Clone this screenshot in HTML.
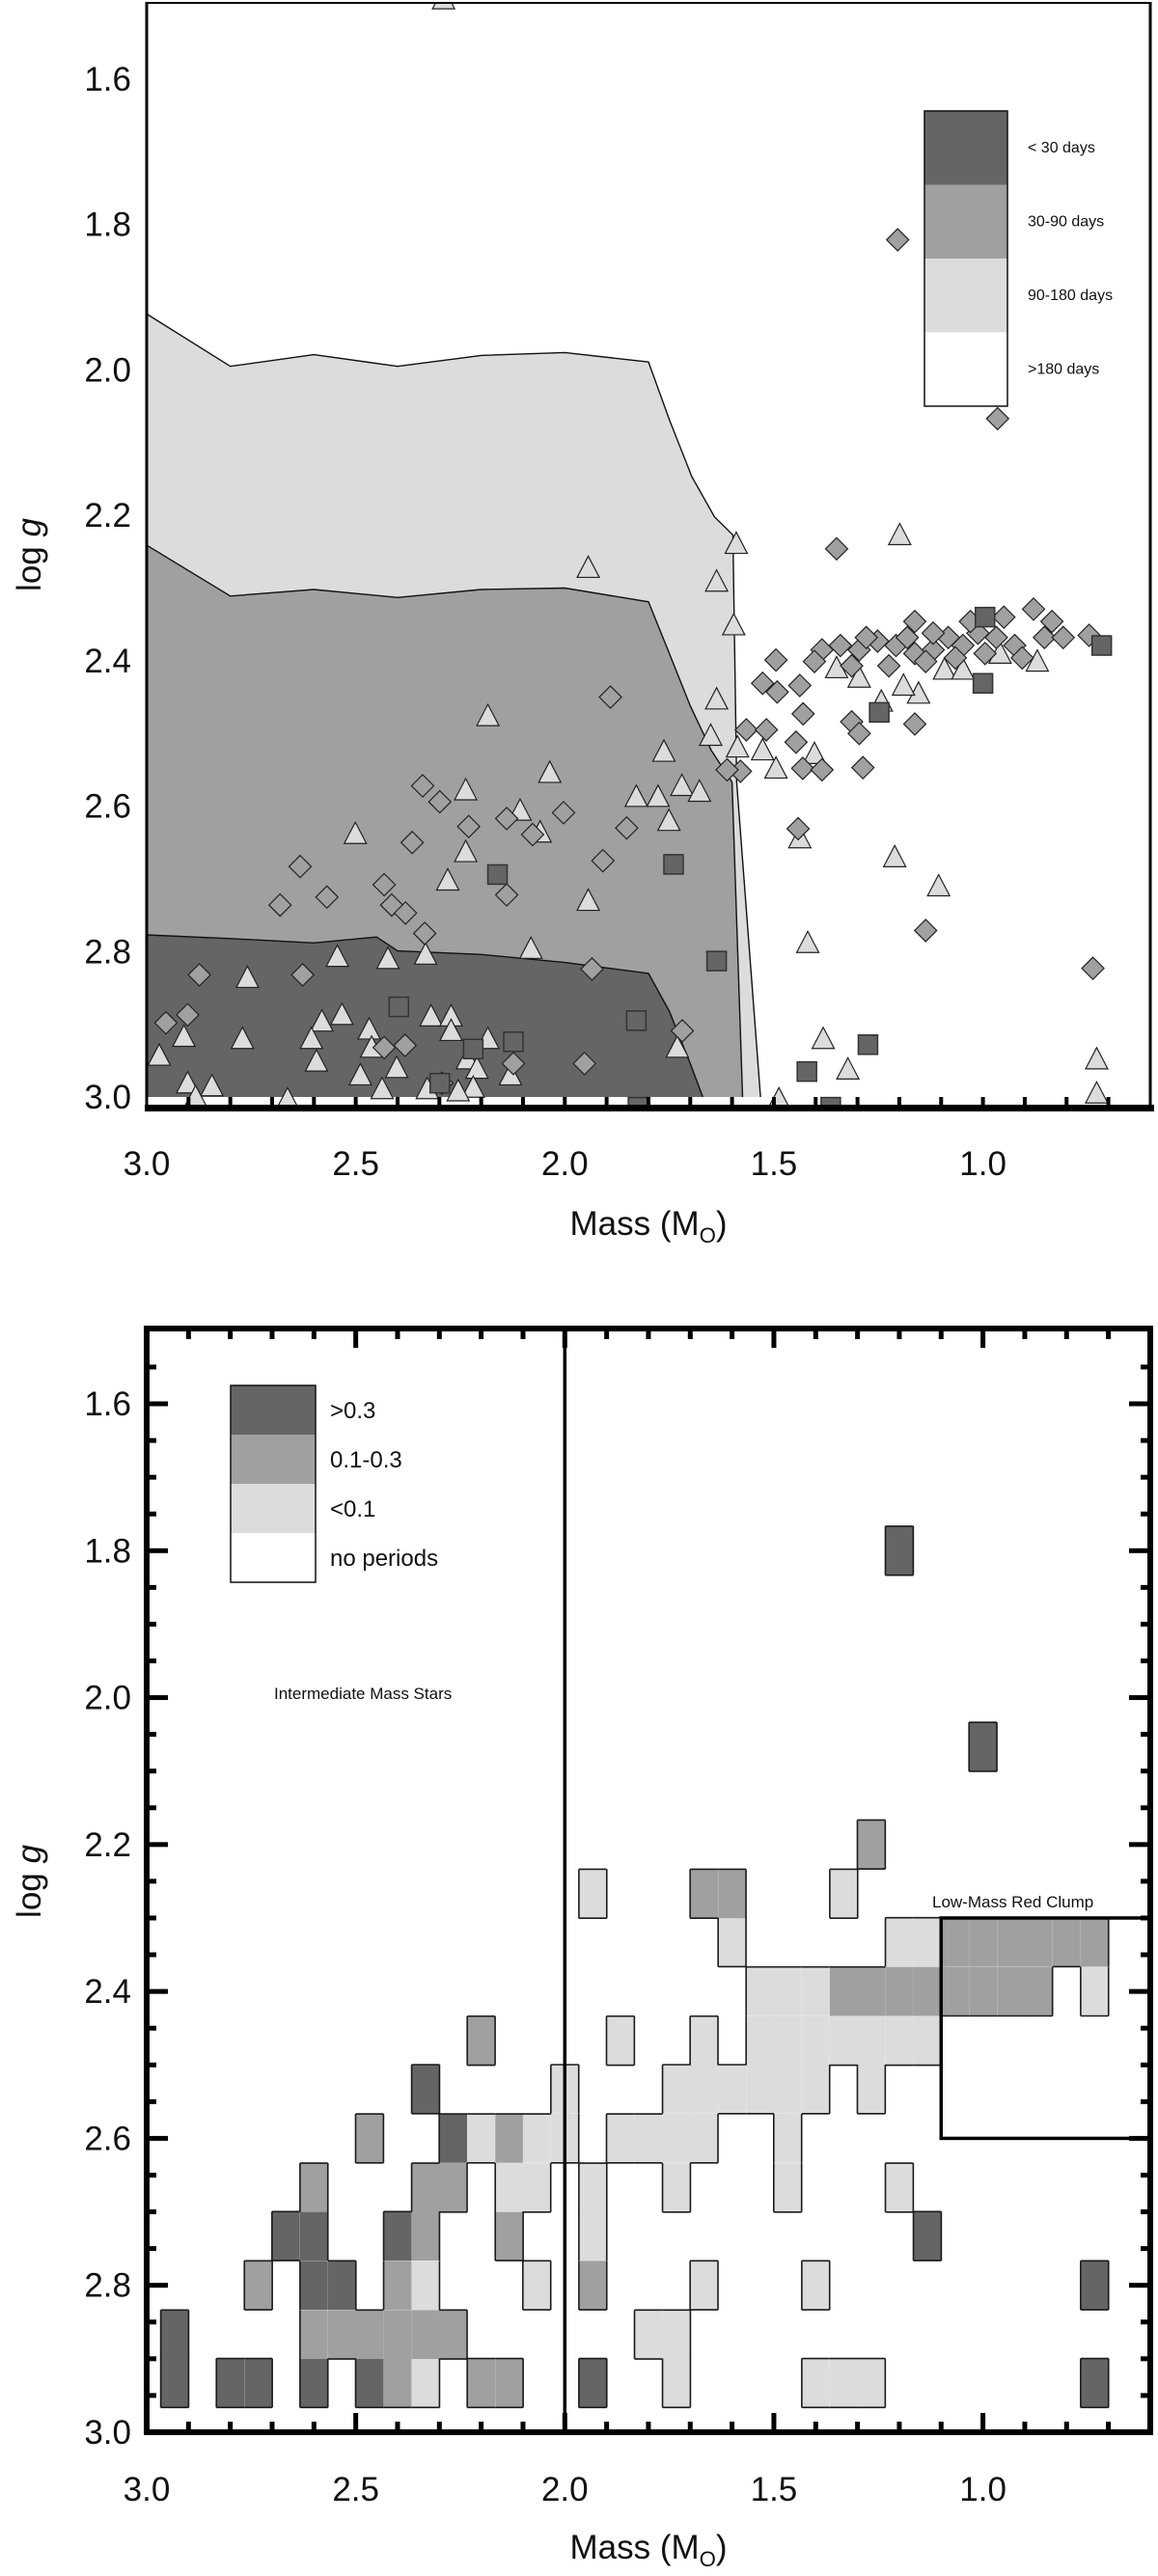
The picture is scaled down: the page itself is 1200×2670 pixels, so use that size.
<!DOCTYPE html>
<html><head><meta charset="utf-8"><style>
html,body{margin:0;padding:0;background:#fff}
svg{display:block;font-family:"Liberation Sans",Arial,sans-serif}
</style></head><body>
<svg id="fig" width="1200" height="2670" viewBox="0 0 1200 2670" xmlns="http://www.w3.org/2000/svg">
<defs>
<clipPath id="clipTop"><rect x="152" y="3" width="1040" height="1142"/></clipPath>
<clipPath id="clipBot"><rect x="152" y="1377" width="1040" height="1144"/></clipPath>
</defs>
<g id="topPanel"></g>
<g id="botPanel"></g>
</svg>
<script>
// ---------- TOP PANEL DATA ----------
const contourLightMass = [3.0,2.8,2.6,2.4,2.2,2.0,1.8,1.749,1.696,1.642,1.598,1.589,1.532];
const contourLightLogg = [1.923,1.995,1.979,1.995,1.98,1.976,1.989,2.07,2.147,2.202,2.227,2.567,3.0];
const contourMedMass = [3.0,2.8,2.6,2.4,2.2,2.0,1.8,1.75,1.70,1.65,1.60,1.575];
const contourMedLogg = [2.241,2.311,2.302,2.313,2.302,2.30,2.319,2.39,2.462,2.523,2.567,3.0];
const contourDarkMass = [3.0,2.8,2.6,2.45,2.4,2.2,2.0,1.8,1.75,1.70,1.67];
const contourDarkLogg = [2.777,2.782,2.788,2.78,2.799,2.804,2.815,2.83,2.882,2.954,3.0];

const triMass = [2.29,1.59,1.637,1.596,1.637,1.651,1.587,1.527,1.495,1.944,2.184,1.763,1.72,1.678,1.829,1.777,1.751,2.036,2.237,2.107,2.059,2.501,2.237,2.28,1.944,2.081,1.731,2.333,2.423,2.544,2.759,2.97,2.911,2.902,2.844,2.771,2.581,2.606,2.594,2.533,2.468,2.462,2.489,2.437,2.402,2.32,2.272,2.272,2.329,2.233,2.21,2.184,2.13,2.219,2.255,2.663,2.883,1.488,0.728,0.728,1.419,1.382,1.323,1.211,1.106,1.438,1.403,1.199,1.296,1.243,1.154,1.092,0.87,1.19,1.048,0.959,1.35];
const triLogg = [1.49,2.239,2.291,2.351,2.453,2.503,2.519,2.523,2.548,2.272,2.476,2.525,2.572,2.58,2.587,2.587,2.62,2.554,2.578,2.606,2.636,2.638,2.663,2.702,2.73,2.796,2.932,2.804,2.81,2.807,2.836,2.943,2.917,2.981,2.985,2.92,2.896,2.92,2.951,2.887,2.907,2.932,2.97,2.989,2.96,2.889,2.889,2.909,2.989,2.948,2.961,2.92,2.97,2.987,2.992,3.003,3.0,3.003,2.948,2.995,2.788,2.92,2.962,2.67,2.71,2.644,2.528,2.227,2.423,2.456,2.445,2.412,2.401,2.434,2.412,2.39,2.41];

const diaMass = [1.204,0.965,1.35,0.737,1.137,1.442,1.431,1.447,1.43,1.438,1.385,1.314,1.296,1.287,1.163,1.58,1.612,1.566,1.518,1.527,1.495,1.492,
 1.385,1.341,1.296,1.252,1.208,1.163,1.163,1.119,1.083,1.048,1.012,0.968,0.95,0.924,0.879,0.853,0.835,0.808,0.746,1.314,1.225,1.137,1.066,0.995,0.906,1.403,1.181,1.03,1.119,1.279,
 1.891,2.34,2.299,2.365,2.23,2.139,2.003,2.077,1.852,1.909,2.633,2.681,2.569,2.432,2.414,2.381,2.335,2.139,1.935,1.719,1.953,2.432,2.382,2.954,2.902,2.874,2.294,2.123,2.627];
const diaLogg = [1.821,2.067,2.246,2.823,2.771,2.631,2.548,2.512,2.473,2.434,2.55,2.484,2.5,2.547,2.487,2.552,2.55,2.495,2.495,2.431,2.399,2.443,
 2.385,2.379,2.385,2.373,2.379,2.346,2.39,2.385,2.368,2.379,2.362,2.368,2.34,2.379,2.329,2.368,2.346,2.368,2.365,2.407,2.407,2.401,2.396,2.39,2.396,2.401,2.368,2.346,2.362,2.368,
 2.45,2.572,2.594,2.65,2.628,2.617,2.609,2.639,2.63,2.675,2.683,2.736,2.725,2.708,2.736,2.747,2.775,2.722,2.824,2.909,2.954,2.932,2.929,2.898,2.887,2.832,2.981,2.954,2.832];

const sqMass = [2.161,1.74,1.637,2.397,1.829,2.123,2.219,2.299,1.421,1.275,1.248,1.0,0.995,0.716,1.825,1.364];
const sqLogg = [2.694,2.68,2.813,2.876,2.895,2.924,2.934,2.981,2.965,2.928,2.471,2.431,2.34,2.379,3.014,3.014];

const yTickLabels = ["1.6","1.8","2.0","2.2","2.4","2.6","2.8","3.0"];
const xTickLabels = ["3.0","2.5","2.0","1.5","1.0"];
const topLegendLabels = ["< 30 days","30-90 days","90-180 days",">180 days"];
const botLegendLabels = [">0.3","0.1-0.3","<0.1","no periods"];

// ---------- BOTTOM PANEL DATA (heatmap bins, 1/15 wide) ----------
const heatMass = [
 2.933,2.8,2.733,2.6,2.467,2.4,2.333,2.2,2.133,1.933,1.733,1.4,1.333,1.267,0.733,
 2.933,2.6,2.533,2.467,2.4,2.333,2.267,1.8,1.733,
 2.733,2.6,2.533,2.4,2.333,2.067,1.933,1.667,1.4,0.733,
 2.667,2.6,2.4,2.333,2.133,1.933,1.133,
 2.6,2.333,2.267,2.133,2.067,1.933,1.733,1.467,1.2,
 2.467,2.267,2.2,2.133,2.067,2.0,1.867,1.8,1.733,1.667,1.467,
 2.333,2.0,1.733,1.667,1.6,1.533,1.467,1.4,1.267,
 2.2,1.867,1.667,1.533,1.467,1.4,1.333,1.267,1.2,1.133,
 1.533,1.467,1.4,1.333,1.267,1.2,1.133,1.067,1.0,0.933,0.867,0.733,
 1.6,1.2,1.133,1.067,1.0,0.933,0.867,0.8,0.733,
 1.933,1.667,1.6,1.333,
 1.267,
 1.0,
 1.2];
const heatLogg = [
 2.933,2.933,2.933,2.933,2.933,2.933,2.933,2.933,2.933,2.933,2.933,2.933,2.933,2.933,2.933,
 2.867,2.867,2.867,2.867,2.867,2.867,2.867,2.867,2.867,
 2.8,2.8,2.8,2.8,2.8,2.8,2.8,2.8,2.8,2.8,
 2.733,2.733,2.733,2.733,2.733,2.733,2.733,
 2.667,2.667,2.667,2.667,2.667,2.667,2.667,2.667,2.667,
 2.6,2.6,2.6,2.6,2.6,2.6,2.6,2.6,2.6,2.6,2.6,
 2.533,2.533,2.533,2.533,2.533,2.533,2.533,2.533,2.533,
 2.467,2.467,2.467,2.467,2.467,2.467,2.467,2.467,2.467,2.467,
 2.4,2.4,2.4,2.4,2.4,2.4,2.4,2.4,2.4,2.4,2.4,2.4,
 2.333,2.333,2.333,2.333,2.333,2.333,2.333,2.333,2.333,
 2.267,2.267,2.267,2.267,
 2.2,
 2.067,
 1.8];
const heatLevel = [
 3,3,3,3,3,2,1,2,2,3,1,1,1,1,3,
 3,2,2,2,2,2,2,1,1,
 2,3,3,2,1,1,2,1,1,3,
 3,3,3,2,2,1,3,
 2,2,2,1,1,1,1,1,1,
 2,3,1,2,1,1,1,1,1,1,1,
 3,1,1,1,1,1,1,1,1,
 2,1,1,1,1,1,1,1,1,1,
 1,1,1,2,2,2,2,2,2,2,2,1,
 1,1,1,2,2,2,2,2,2,
 1,2,2,1,
 2,
 3,
 3];

const shade = {3:"#656565",2:"#a0a0a0",1:"#dcdcdc",0:"#ffffff"};
const NS="http://www.w3.org/2000/svg";
function mk(tag, attrs, parent){const e=document.createElementNS(NS,tag);for(const k in attrs)e.setAttribute(k,attrs[k]);parent.appendChild(e);return e;}

// scales
const X = m => 152 + (3 - m) * 433.3;
const YT = g => 82 + (g - 1.6) * 753.6;
const YB = g => 1455 + (g - 1.6) * 761.4;

// ================= TOP PANEL =================
const topG = document.getElementById('topPanel');
const topPlot = mk('g',{'clip-path':'url(#clipTop)'},topG);


function contour(ms, gs, fill, name){
  let pts = ms.map((m,i)=>X(m).toFixed(1)+','+YT(gs[i]).toFixed(1));
  pts.push(X(3.0)+','+YT(3.0));
  const p = mk('polygon',{points:pts.join(' '),fill:fill,stroke:'none'},topPlot);
  
  
  const l = mk('polyline',{points:ms.map((m,i)=>X(m).toFixed(1)+','+YT(gs[i]).toFixed(1)).join(' '),fill:'none',stroke:'#111','stroke-width':1.4},topPlot);
  
  
}
contour(contourLightMass, contourLightLogg, shade[1], 'contour-90-180-days');
contour(contourMedMass, contourMedLogg, shade[2], 'contour-30-90-days');
contour(contourDarkMass, contourDarkLogg, shade[3], 'contour-under-30-days');

triMass.forEach((m,i)=>{
  const cx=X(m), cy=YT(triLogg[i]);
  const t = mk('polygon',{points:`${cx-11.5},${cy+10} ${cx+11.5},${cy+10} ${cx},${cy-12}`,fill:'#dcdcdc',stroke:'#222','stroke-width':1.2},topPlot);
  
  
});
diaMass.forEach((m,i)=>{
  const cx=X(m), cy=YT(diaLogg[i]);
  const d = mk('polygon',{points:`${cx},${cy-11.5} ${cx+11.5},${cy} ${cx},${cy+11.5} ${cx-11.5},${cy}`,fill:'#a0a0a0',stroke:'#222','stroke-width':1.2},topPlot);
  
  
});
sqMass.forEach((m,i)=>{
  const cx=X(m), cy=YT(sqLogg[i]);
  const s = mk('rect',{x:cx-10,y:cy-10,width:20,height:20,fill:'#656565',stroke:'#333','stroke-width':1.5},topPlot);
  
  
});

// frame
const tf = mk('g',{},topG);


mk('line',{x1:152,y1:3,x2:1192,y2:3,stroke:'#000','stroke-width':2},tf);
mk('line',{x1:152,y1:2,x2:152,y2:1150,stroke:'#000','stroke-width':3},tf);
mk('line',{x1:1192,y1:2,x2:1192,y2:1150,stroke:'#000','stroke-width':3},tf);
mk('rect',{x:150,y:1145,width:1046,height:7,fill:'#000'},tf);
for(let k=1;k<24;k++){
  const m = 3 - k*0.1;
  const tk = mk('rect',{x:X(m)-2,y:1137,width:4,height:9,fill:'#000'},tf);
  
  
}
yTickLabels.forEach(s=>{
  const t = mk('text',{x:136,y:YT(parseFloat(s))+12,'font-size':35,'text-anchor':'end',fill:'#111'},topG);
  t.textContent=s;
  
  
});
xTickLabels.forEach(s=>{
  const t = mk('text',{x:X(parseFloat(s)),y:1218,'font-size':35,'text-anchor':'middle',fill:'#111'},topG);
  t.textContent=s;
  
  
});
// legend
const tl = mk('g',{},topG);


[3,2,1,0].forEach((lv,i)=>{
  const r = mk('rect',{x:958,y:115+i*76.5,width:86,height:76.5,fill:shade[lv]},tl);
  
  
  const t = mk('text',{x:1065,y:115+i*76.5+43,'font-size':16,fill:'#111'},tl);
  t.textContent=topLegendLabels[i];
  
  
});
mk('rect',{x:958,y:115,width:86,height:306,fill:'none',stroke:'#111','stroke-width':1.5},tl);

// ================= BOTTOM PANEL =================
const botG = document.getElementById('botPanel');
const botPlot = mk('g',{'clip-path':'url(#clipBot)'},botG);


const W = 1/15;
const occ = {};
const key = (m,g)=>Math.round(m*15)+'_'+Math.round(g*15);
heatMass.forEach((m,i)=>{ occ[key(m,heatLogg[i])]=1; });
heatMass.forEach((m,i)=>{
  const g = heatLogg[i];
  const x0=X(m+W/2), x1=X(m-W/2), y0=YB(g-W/2), y1=YB(g+W/2);
  const c = mk('rect',{x:x0,y:y0,width:x1-x0,height:y1-y0,fill:shade[heatLevel[i]]},botPlot);
  
  
});
heatMass.forEach((m,i)=>{
  const g = heatLogg[i];
  const x0=X(m+W/2), x1=X(m-W/2), y0=YB(g-W/2), y1=YB(g+W/2);
  const st={stroke:'#1a1a1a','stroke-width':1.6};
  if(!occ[key(m,g-W)]) mk('line',Object.assign({x1:x0,y1:y0,x2:x1,y2:y0},st),botPlot);
  if(!occ[key(m,g+W)]) mk('line',Object.assign({x1:x0,y1:y1,x2:x1,y2:y1},st),botPlot);
  if(!occ[key(m+W,g)]) mk('line',Object.assign({x1:x0,y1:y0,x2:x0,y2:y1},st),botPlot);
  if(!occ[key(m-W,g)]) mk('line',Object.assign({x1:x1,y1:y0,x2:x1,y2:y1},st),botPlot);
});
// divider and clump box
const vl = mk('line',{x1:X(2.0),y1:1377,x2:X(2.0),y2:2521,stroke:'#000','stroke-width':3.5},botG);


const cb = mk('rect',{x:X(1.1),y:YB(2.3),width:1192-X(1.1),height:YB(2.6)-YB(2.3),fill:'none',stroke:'#000','stroke-width':3.5},botG);


const t1 = mk('text',{x:284,y:1761,'font-size':17,fill:'#111'},botG);
t1.textContent='Intermediate Mass Stars';


const t2 = mk('text',{x:966,y:1977,'font-size':17,fill:'#111'},botG);
t2.textContent='Low-Mass Red Clump';


// legend
const bl = mk('g',{},botG);


[3,2,1,0].forEach((lv,i)=>{
  const r = mk('rect',{x:239,y:1436+i*51,width:88,height:51,fill:shade[lv]},bl);
  
  
  const t = mk('text',{x:342,y:1436+i*51+34,'font-size':24,fill:'#111'},bl);
  t.textContent=botLegendLabels[i];
  
  
});
mk('rect',{x:239,y:1436,width:88,height:204,fill:'none',stroke:'#111','stroke-width':1.5},bl);
// frame + ticks
const bf = mk('g',{},botG);


mk('rect',{x:152,y:1377,width:1040,height:1144,fill:'none',stroke:'#000','stroke-width':6},bf);
for(let k=1;k<30;k++){
  const g = 1.5 + k*0.05;
  const major = (k%4===2);
  const len = major?22:10;
  mk('rect',{x:152,y:YB(g)-2.5,width:len,height:5,fill:'#000'},bf);
  mk('rect',{x:1192-len,y:YB(g)-2.5,width:len,height:5,fill:'#000'},bf);
}
for(let k=1;k<24;k++){
  const m = 3 - k*0.1;
  const len = (k%5===0)?20:11;
  mk('rect',{x:X(m)-2.5,y:1377,width:5,height:len,fill:'#000'},bf);
  mk('rect',{x:X(m)-2.5,y:2521-len,width:5,height:len,fill:'#000'},bf);
}
yTickLabels.forEach(s=>{
  const t = mk('text',{x:136,y:YB(parseFloat(s))+12,'font-size':35,'text-anchor':'end',fill:'#111'},botG);
  t.textContent=s;
  
  
});
xTickLabels.forEach(s=>{
  const t = mk('text',{x:X(parseFloat(s)),y:2592,'font-size':35,'text-anchor':'middle',fill:'#111'},botG);
  t.textContent=s;
  
  
});

// axis titles
function xTitle(y, parent){
  const t = mk('text',{x:672,y:y,'font-size':35,'text-anchor':'middle',fill:'#111'},parent);
  const a = mk('tspan',{},t); a.textContent='Mass (M';
  const b = mk('tspan',{'font-size':22,dy:8},t); b.textContent='O';
  const c = mk('tspan',{dy:-8},t); c.textContent=')';
  
  
}
function yTitle(cy, parent){
  const t = mk('text',{x:0,y:0,'font-size':35,'text-anchor':'middle',fill:'#111',transform:`translate(42,${cy}) rotate(-90)`},parent);
  const a = mk('tspan',{},t); a.textContent='log ';
  const b = mk('tspan',{'font-style':'italic'},t); b.textContent='g';
  
  
}
xTitle(1280, topG); yTitle(575, topG);
xTitle(2652, botG); yTitle(1950, botG);
</script>
</body></html>
